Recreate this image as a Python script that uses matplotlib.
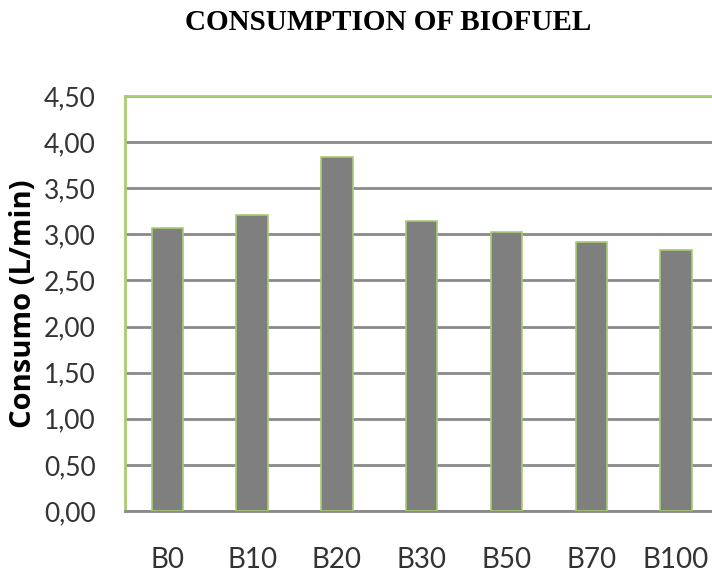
import matplotlib
matplotlib.use("Agg")
import matplotlib.pyplot as plt

# biofuel blends and measured consumption (L/min)
blends = ["B0", "B10", "B20", "B30", "B50", "B70", "B100"]
consumo = [3.07, 3.21, 3.84, 3.15, 3.03, 2.92, 2.83]
yticks = [0.0, 0.5, 1.0, 1.5, 2.0, 2.5, 3.0, 3.5, 4.0, 4.5]

BAR = "#7f7f7f"
GREEN = "#a9cc72"
GRID = "#8a8a8a"

fig = plt.figure(figsize=(7.12, 5.78), dpi=100)
# plot area runs a little past the right edge of the figure
ax = fig.add_axes([125 / 712, 67 / 578, 593.5 / 712, 415 / 578])

x = range(len(blends))
ax.bar(x, consumo, width=0.37, color=BAR, edgecolor=GREEN, linewidth=1.2, zorder=3)

ax.set_xlim(-0.5, len(blends) - 0.5)
ax.set_ylim(0, 4.5)
ax.set_yticks(yticks, [f"{v:.2f}".replace(".", ",") for v in yticks])
ax.set_xticks(list(x), blends)
ax.yaxis.grid(True, color=GRID, linewidth=2, zorder=1)
ax.set_axisbelow(True)

for side in ("left", "top"):
    ax.spines[side].set_color(GREEN)
    ax.spines[side].set_linewidth(2)
ax.spines["right"].set_visible(False)
ax.spines["bottom"].set_color(GRID)
ax.spines["bottom"].set_linewidth(2)

ax.tick_params(axis="y", length=0, pad=21, labelsize=19, labelcolor="#333333")
ax.tick_params(axis="x", length=0, pad=26, labelsize=20, labelcolor="#333333")
for lab in ax.get_xticklabels() + ax.get_yticklabels():
    lab.set_family("Lato")

ax.set_ylabel("Consumo (L/min)", family="Open Sans", fontweight="bold", fontsize=21)
ax.yaxis.set_label_coords(-0.146, 0.5)

fig.text(388 / 712, 1 - 22 / 578, "CONSUMPTION OF BIOFUEL", family="Liberation Serif",
         fontweight="bold", fontsize=21, ha="center", va="center")

fig.savefig("out.png", dpi=100)
